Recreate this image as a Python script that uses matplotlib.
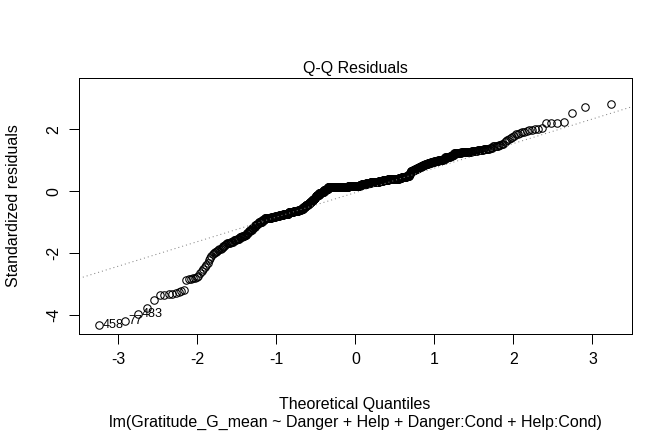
import numpy as np
import matplotlib
matplotlib.use("Agg")
import matplotlib.pyplot as plt
from statistics import NormalDist

# ---- data: sorted standardized residuals (level, count) ----
resid_levels = [
    -4.31, -4.18, -3.97, -3.77, -3.53, -3.37, -3.35, -3.33, -3.31, -3.29, -3.27, -3.24, -3.18,
    -2.88, -2.85, -2.83, -2.81, -2.79, -2.77, -2.74,
    -2.66, -2.59, -2.52, -2.45, -2.38, -2.31, -2.24, -2.17, -2.10, -2.04,
    -2.01, -1.98, -1.96, -1.93, -1.91, -1.88, -1.86, -1.83, -1.81, -1.78, -1.76, -1.73, -1.71,
    -1.69, -1.64, -1.59, -1.54, -1.49, -1.44,
    -1.40, -1.35, -1.30, -1.25, -1.20, -1.15, -1.10, -1.05, -1.01,
    -0.98, -0.93, -0.88,
    -0.85, -0.82, -0.79, -0.76,
    -0.73, -0.68, -0.64,
    -0.61, -0.58, -0.52, -0.46,
    -0.42, -0.38, -0.35, -0.31, -0.28, -0.24, -0.21, -0.17,
    -0.12, -0.07, -0.02, 0.03, 0.08, 0.12,
    0.14, 0.15, 0.16,
    0.18, 0.20, 0.22, 0.24,
    0.26, 0.29, 0.31, 0.33,
    0.35, 0.38, 0.40,
    0.42, 0.45,
    0.46, 0.48, 0.49, 0.55, 0.60,
    0.64, 0.68, 0.72,
    0.75, 0.79, 0.83, 0.86,
    0.89, 0.92, 0.95,
    0.98, 1.02,
    1.05, 1.09, 1.12, 1.15,
    1.18, 1.22,
    1.24, 1.26, 1.28, 1.30,
    1.33, 1.37,
    1.41, 1.45,
    1.47, 1.49, 1.51, 1.52, 1.54,
    1.58, 1.62, 1.65, 1.68,
    1.72, 1.76, 1.80,
    1.84, 1.86, 1.88, 1.90, 1.93, 1.95, 1.97, 1.99, 2.00, 2.01, 2.03,
    2.19, 2.21, 2.22, 2.24, 2.54, 2.71, 2.81,
]
resid_counts = [
    1, 1, 1, 1, 1, 1, 1, 1, 1, 1, 1, 1, 1,
    1, 1, 1, 1, 1, 1, 1,
    1, 1, 1, 1, 1, 1, 1, 1, 1, 1,
    1, 1, 1, 1, 1, 1, 1, 1, 1, 1, 1, 1, 1,
    4, 4, 4, 4, 4, 4,
    3, 3, 3, 3, 3, 3, 3, 3, 3,
    5, 5, 5,
    10, 10, 10, 11,
    15, 15, 15,
    8, 8, 8, 8,
    4, 4, 4, 4, 4, 4, 4, 4,
    9, 9, 9, 9, 8, 8,
    37, 37, 37,
    10, 10, 10, 9,
    17, 17, 17, 16,
    20, 20, 20,
    10, 10,
    6, 6, 4, 3, 2,
    7, 7, 6,
    6, 6, 6, 6,
    8, 8, 9,
    10, 11,
    5, 5, 5, 4,
    4, 5,
    8, 8, 8, 8,
    7, 7,
    3, 4,
    1, 1, 1, 1, 1,
    1, 1, 1, 1,
    1, 1, 1,
    1, 1, 1, 1, 1, 1, 1, 1, 1, 1, 1,
    1, 1, 1, 1, 1, 1, 1,
]
id_labels = ["458", "77", "483"]   # ids of the three largest |residuals|

title_text = "Q-Q Residuals"
xlab_text = "Theoretical Quantiles"
sub_text = "lm(Gratitude_G_mean ~ Danger + Help + Danger:Cond + Help:Cond)"
x_ticks = [-3, -2, -1, 0, 1, 2, 3]
y_ticks = [-4, -2, 0, 2]

# ---- derived ----
rs = np.repeat(np.array(resid_levels), np.array(resid_counts))
n = len(rs)
nd = NormalDist()
qx = np.array([nd.inv_cdf((i - 0.5) / n) for i in range(1, n + 1)])

plt.rcParams['font.family'] = ['Liberation Sans', 'DejaVu Sans']
W, H, DPI = 672, 432, 96
fig = plt.figure(figsize=(W / DPI, H / DPI), dpi=DPI)
L, R, T, B = 79, 631.7, 78.3, 334
ax = fig.add_axes([L / W, 1 - B / H, (R - L) / W, (B - T) / H])

ax.plot(qx, rs, linestyle='none', marker='o', markersize=5.6,
        markerfacecolor='none', markeredgecolor='black', markeredgewidth=0.8)

# R-like limits
xr = qx.max() - qx.min()
ax.set_xlim(qx.min() - 0.04 * xr, qx.max() + 0.04 * xr)
ylo, yhi = rs.min(), rs.max()
yhi = yhi + (yhi - ylo) * 0.075
yr = yhi - ylo
ax.set_ylim(ylo - 0.04 * yr, yhi + 0.04 * yr)

# qqline through quartiles
qy = np.quantile(rs, [0.25, 0.75])
qxq = np.array([nd.inv_cdf(0.25), nd.inv_cdf(0.75)])
slope = (qy[1] - qy[0]) / (qxq[1] - qxq[0])
icpt = qy[0] - slope * qxq[0]
ax.axline((0, icpt), slope=slope, color='#7f7f7f', linewidth=0.75,
          linestyle=(0, (1, 3)))

# labels of extreme points
order = np.argsort(-np.abs(rs))[:3]
mx = qx.mean()
for lab, idx in zip(id_labels, sorted(order, key=lambda i: rs[i])):
    if qx[idx] < mx:
        ax.annotate(lab, (qx[idx], rs[idx]), xytext=(2.5, 0), textcoords='offset points',
                    ha='left', va='center', fontsize=9.5)
    else:
        ax.annotate(lab, (qx[idx], rs[idx]), xytext=(-2.5, 0), textcoords='offset points',
                    ha='right', va='center', fontsize=9.5)

for s in ax.spines.values():
    s.set_linewidth(0.75)
ax.set_xticks(x_ticks)
ax.set_xticklabels([str(t) for t in x_ticks])
ax.set_yticks(y_ticks)
ax.set_yticklabels([str(t) for t in y_ticks], rotation=90, va='center')
ax.tick_params(direction='out', length=7.2, width=0.75, labelsize=12)
ax.tick_params(axis='x', pad=6)
ax.tick_params(axis='y', pad=6)

ax.set_title(title_text, fontsize=12, pad=4)
fig.text(355 / W, 1 - 404 / H, xlab_text, ha='center', va='center', fontsize=12)
fig.text(355 / W, 1 - 422 / H, sub_text, ha='center', va='center', fontsize=12)
fig.text(14 / W, 1 - 206 / H, "Standardized residuals", ha='center', va='center',
         rotation=90, fontsize=12)

fig.savefig("out.png", dpi=DPI)
